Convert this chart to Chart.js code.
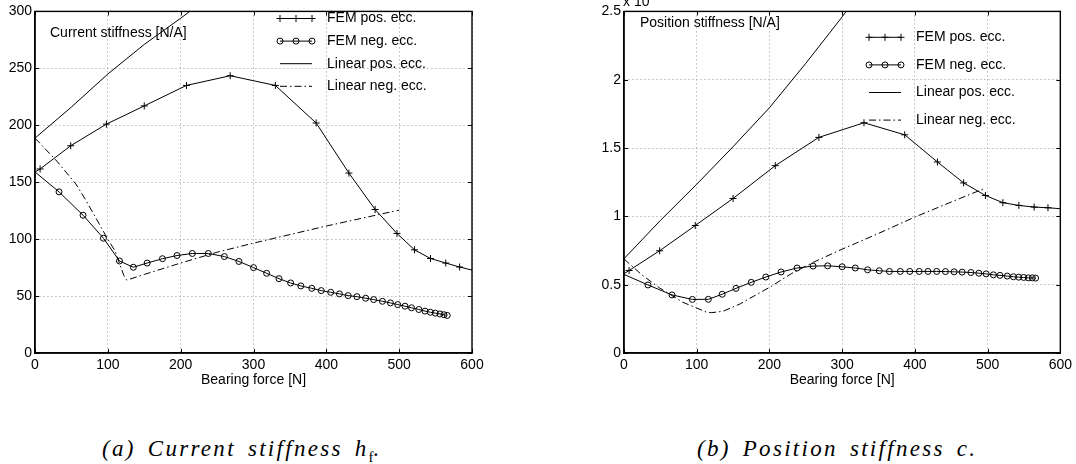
<!DOCTYPE html>
<html>
<head>
<meta charset="utf-8">
<title>Bearing stiffness</title>
<script src="https://cdn.jsdelivr.net/npm/chart.js@4.4.1/dist/chart.umd.min.js"></script>
<style>
  body { margin: 0; background: #fff; }
  #page { position: relative; width: 1076px; height: 464px; overflow: hidden; background: #fff; }
  canvas { position: absolute; top: 0; }
  #chartA { left: 0; }
  #chartB { left: 538px; }
  .caption {
    position: absolute; top: 436px;
    font-family: "Liberation Serif", serif; font-style: italic;
    font-size: 23px; letter-spacing: 2.3px; word-spacing: 4px;
    white-space: nowrap; color: #000;
  }
  .caption sub { font-style: normal; font-size: 15px; letter-spacing: 0; color: #000; }
</style>
</head>
<body>
<div id="page">
  <canvas id="chartA" width="538" height="400"></canvas>
  <canvas id="chartB" width="538" height="400"></canvas>
  <div class="caption" style="left:102px">(a) Current stiffness h<sub>f</sub>.</div>
  <div class="caption" style="left:697px">(b) Position stiffness c.</div>
</div>
<script>
// bearing force values [N] of the FEM runs
const posForce = [0, 7, 49, 98, 150, 208, 268, 330, 386, 431, 467, 497, 521, 543, 564, 583, 600];
const negForce = [0, 33, 66, 94, 116, 135, 154, 175, 195, 216, 238, 260, 280, 300, 318, 335, 351, 365, 380,
  393, 406, 418, 430, 442, 454, 465, 477, 488, 498, 508, 517, 527, 535.5, 542.8, 549.6, 556, 561.5, 566];

// current stiffness [N/A]
const curFemPos = [159, 161.6, 182, 201, 217, 235, 243.5, 235, 202, 158, 126, 105, 90.6, 83, 79, 75.5, 72.8];
const curFemNeg = [159, 141.5, 121, 100.8, 80.8, 75.3, 79, 82.8, 85.6, 87.4, 87.4, 84.7, 80.4, 75, 70, 65.3,
  61.5, 58.9, 56.8, 54.8, 53.3, 51.9, 50.4, 49.5, 48.1, 46.9, 45.4, 44, 42.5, 41.1, 39.7, 38.2, 36.8, 35.8,
  35, 34.3, 33.6, 33];
const curLinPosForce = [0, 50, 100, 150, 200, 250];
const curLinPos = [188.7, 216, 245, 271, 294, 318];
const curLinNegForce = [0, 30, 56, 70, 99, 110, 122, 126, 150, 200, 250, 300, 400, 500];
const curLinNeg = [188.7, 168.5, 148.5, 134, 101, 89.5, 68, 64, 69, 79, 88.5, 96.5, 111.5, 125.5];

// position stiffness [N/m], in units of 1e4
const posFemPos = [0.58, 0.604, 0.748, 0.933, 1.131, 1.371, 1.578, 1.685, 1.597, 1.398, 1.245, 1.153, 1.1,
  1.08, 1.068, 1.063, 1.056];
const posFemNeg = [0.575, 0.498, 0.425, 0.392, 0.393, 0.43, 0.473, 0.517, 0.556, 0.593, 0.622, 0.636, 0.638,
  0.631, 0.622, 0.609, 0.602, 0.597, 0.597, 0.597, 0.597, 0.597, 0.597, 0.596, 0.594, 0.592, 0.589, 0.584,
  0.579, 0.572, 0.568, 0.563, 0.558, 0.555, 0.553, 0.55, 0.55, 0.548];
const posLinPosForce = [0, 50, 100, 150, 200, 250, 300, 330];
const posLinPos = [0.69, 0.97, 1.235, 1.51, 1.795, 2.12, 2.46, 2.68];
const posLinNegForce = [0, 25, 49, 81, 113, 120, 136, 160, 182, 200, 230, 260, 300, 350, 400, 450, 497];
const posLinNeg = [0.688, 0.57, 0.476, 0.371, 0.3, 0.295, 0.305, 0.36, 0.427, 0.48, 0.58, 0.663, 0.76,
  0.875, 0.995, 1.105, 1.207];

const seriesNames = ['FEM pos. ecc.', 'FEM neg. ecc.', 'Linear pos. ecc.', 'Linear neg. ecc.'];
const forceTicks = [0, 100, 200, 300, 400, 500, 600];

(function(){
  'use strict';

  const FONT = '"Liberation Sans", Arial, sans-serif';
  Chart.defaults.font.family = FONT;
  Chart.defaults.font.size = 14;
  Chart.defaults.color = '#000';

  const pts = (xs, ys) => xs.map((x, i) => ({x: x, y: ys[i]}));
  // no marker on the start point (and on the clipped end point)
  const markerSizes = (xs, r, hideLast) => xs.map((x, i) => (i === 0 || (hideLast && i === xs.length - 1)) ? 0 : r);

  // box, inward ticks, legend and inner labels, drawn like a matlab axes
  const axesDecor = {
    id: 'axesDecor',
    afterDraw(chart, args, opts) {
      const {ctx, chartArea: a} = chart;
      const xs = chart.scales.x, ys = chart.scales.y;
      ctx.save();
      ctx.strokeStyle = '#000';
      ctx.lineWidth = 1;
      ctx.beginPath();
      xs.ticks.forEach(t => {
        const px = Math.round(xs.getPixelForValue(t.value)) + 0.5;
        ctx.moveTo(px, a.bottom); ctx.lineTo(px, a.bottom - 4);
        ctx.moveTo(px, a.top); ctx.lineTo(px, a.top + 4);
      });
      ys.ticks.forEach(t => {
        const py = Math.round(ys.getPixelForValue(t.value)) + 0.5;
        ctx.moveTo(a.left, py); ctx.lineTo(a.left + 4, py);
        ctx.moveTo(a.right, py); ctx.lineTo(a.right - 4, py);
      });
      ctx.stroke();
      ctx.lineWidth = 1.4;
      ctx.strokeRect(a.left, a.top, a.right - a.left, a.bottom - a.top);

      ctx.fillStyle = '#000';
      ctx.font = '14px ' + FONT;
      ctx.textBaseline = 'middle';
      ctx.textAlign = 'left';
      ctx.fillText(opts.label, opts.labelX, opts.labelY);

      if (opts.exponent) {
        ctx.textBaseline = 'alphabetic';
        ctx.fillText('x 10', opts.exponent.x, opts.exponent.y);
        ctx.font = '10px ' + FONT;
        ctx.fillText('4', opts.exponent.x + 28, opts.exponent.y - 8);
        ctx.font = '14px ' + FONT;
        ctx.textBaseline = 'middle';
      }

      // legend
      const lg = opts.legend;
      chart.data.datasets.forEach((ds, i) => {
        const y = lg.y + i * lg.gap;
        const x0 = lg.x, x1 = lg.x + 32;
        ctx.lineWidth = 1;
        ctx.setLineDash(ds.borderDash || []);
        ctx.beginPath();
        ctx.moveTo(x0, y); ctx.lineTo(x1, y);
        ctx.stroke();
        ctx.setLineDash([]);
        if (ds.pointStyle) {
          [x0, (x0 + x1) / 2, x1].forEach(mx => {
            ctx.beginPath();
            if (ds.pointStyle === 'cross') {
              ctx.moveTo(mx - 3.5, y); ctx.lineTo(mx + 3.5, y);
              ctx.moveTo(mx, y - 3.5); ctx.lineTo(mx, y + 3.5);
            } else {
              ctx.arc(mx, y, 3, 0, Math.PI * 2);
            }
            ctx.stroke();
          });
        }
        ctx.fillText(ds.label, lg.x + 47, y);
      });
      ctx.restore();
    }
  };

  function makeChart(id, cfg){
    const ctx = document.getElementById(id).getContext('2d');
    return new Chart(ctx, {
      type: 'line',
      data: {
        datasets: [{
          label: seriesNames[0],
          data: pts(posForce, cfg.femPos),
          borderColor: '#000', borderWidth: 1,
          pointStyle: 'cross', pointRadius: markerSizes(posForce, 3.5, true),
          pointBorderColor: '#000', pointBorderWidth: 1
        }, {
          label: seriesNames[1],
          data: pts(negForce, cfg.femNeg),
          borderColor: '#000', borderWidth: 1,
          pointStyle: 'circle', pointRadius: markerSizes(negForce, 3, false),
          pointBackgroundColor: 'rgba(0,0,0,0)', pointBorderColor: '#000', pointBorderWidth: 1
        }, {
          label: seriesNames[2],
          data: pts(cfg.linPosForce, cfg.linPos),
          borderColor: '#000', borderWidth: 1, pointRadius: 0
        }, {
          label: seriesNames[3],
          data: pts(cfg.linNegForce, cfg.linNeg),
          borderColor: '#000', borderWidth: 1, pointRadius: 0,
          borderDash: [7, 3, 1.5, 3]
        }]
      },
      options: {
        responsive: false,
        animation: false,
        events: [],
        layout: { padding: { top: 9, right: cfg.padRight, bottom: 0, left: 0 } },
        scales: {
          x: {
            type: 'linear', min: 0, max: 600,
            afterBuildTicks: s => { s.ticks = forceTicks.map(v => ({value: v})); },
            afterFit: s => { s.height = 47; },
            grid: { color: '#999', lineWidth: 1, drawTicks: false },
            border: { color: '#000', width: 1.4, dash: [1, 3] },
            ticks: { padding: 4, maxRotation: 0 },
            title: { display: true, text: 'Bearing force [N]', padding: { top: 0, bottom: 11 } }
          },
          y: {
            type: 'linear', min: 0, max: cfg.yMax,
            afterBuildTicks: s => { s.ticks = cfg.yTicks.map(v => ({value: v})); },
            afterFit: s => { s.width = cfg.yWidth; },
            grid: { color: '#999', lineWidth: 1, drawTicks: false },
            border: { color: '#000', width: 1.4, dash: [1, 3] },
            ticks: { padding: 3, callback: v => String(+v.toFixed(1)) }
          }
        },
        plugins: {
          legend: { display: false },
          tooltip: { enabled: false },
          axesDecor: cfg.decor
        }
      },
      plugins: [axesDecor]
    });
  }

  makeChart('chartA', {
    femPos: curFemPos, femNeg: curFemNeg,
    linPosForce: curLinPosForce, linPos: curLinPos,
    linNegForce: curLinNegForce, linNeg: curLinNeg,
    yMax: 300, yTicks: [0, 50, 100, 150, 200, 250, 300],
    yWidth: 35, padRight: 66,
    decor: {
      label: 'Current stiffness [N/A]', labelX: 50, labelY: 33,
      legend: { x: 280, y: 18.5, gap: 22.6 }
    }
  });

  makeChart('chartB', {
    femPos: posFemPos, femNeg: posFemNeg,
    linPosForce: posLinPosForce, linPos: posLinPos,
    linNegForce: posLinNegForce, linNeg: posLinNeg,
    yMax: 2.5, yTicks: [0, 0.5, 1, 1.5, 2, 2.5],
    yWidth: 86, padRight: 15,
    decor: {
      label: 'Position stiffness [N/A]', labelX: 102, labelY: 23,
      exponent: { x: 85, y: 5.5 },
      legend: { x: 331, y: 37.3, gap: 27.6 }
    }
  });
})();
</script>
</body>
</html>
